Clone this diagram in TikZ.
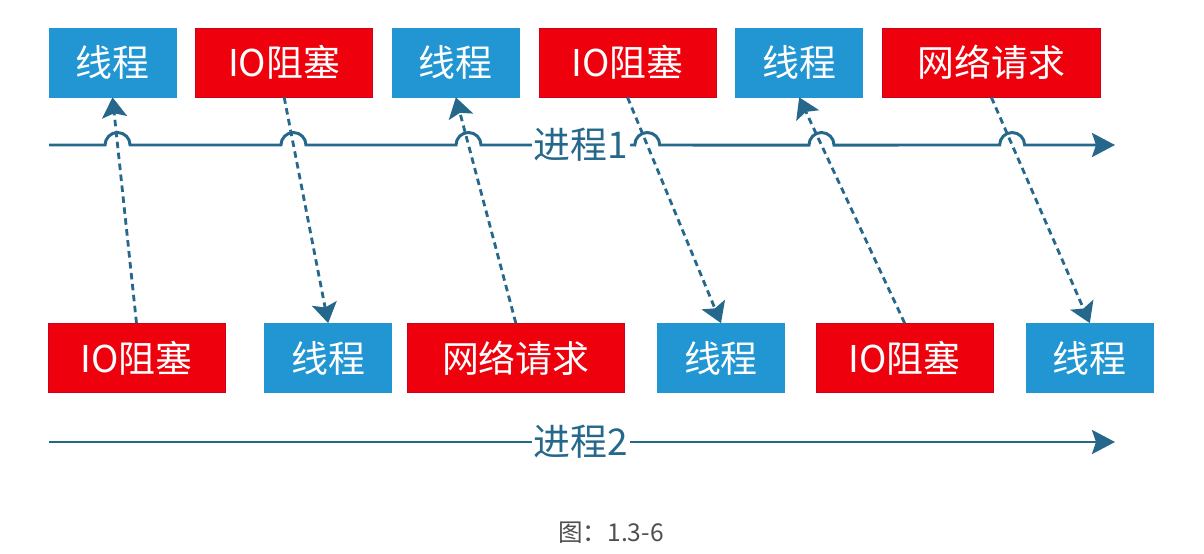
\documentclass[tikz,border=0pt]{standalone}
\usepackage{fontspec}
\setmainfont{Noto Sans CJK SC}
\usetikzlibrary{arrows.meta, positioning}
\definecolor{thrblue}{RGB}{33,150,210}
\definecolor{iored}{RGB}{238,0,12}
\definecolor{ioedge}{RGB}{205,0,30}
\definecolor{procblue}{RGB}{37,104,140}
\definecolor{capgray}{RGB}{80,80,80}

\begin{document}
\begin{tikzpicture}[
        x=0.02cm, y=-0.02cm,
        box/.style={rectangle, minimum height=1.38cm, inner sep=0pt, text=white, font=\fontsize{21}{24}\selectfont},
        thr/.style={box, fill=thrblue, draw=thrblue, minimum width=2.54cm},
        io/.style={box, fill=iored, draw=ioedge, minimum width=3.54cm},
        net/.style={io, minimum width=4.36cm},
        proc/.style={draw=procblue, line width=1.7pt, -{Stealth[length=0.46cm, width=0.48cm, inset=0.08cm]}},
        plabel/.style={text=procblue, inner sep=1pt, font=\fontsize{21}{24}\selectfont},
        dep/.style={draw=procblue, line width=1.6pt, dash pattern=on 0.13cm off 0.09cm, -{Stealth[length=0.4cm, width=0.5cm, inset=0.08cm]}},
        node distance=0.38cm
    ]
        \useasboundingbox (0,0) rectangle (1204,554);

        % Top row
        \node[thr] (th1) at (112.5,62.5) {线程};
        \node[io, right=of th1] (io1) {IO阻塞};
        \node[thr, right=of io1] (th2) {线程};
        \node[io, right=of th2] (io2) {IO阻塞};
        \node[thr, right=of io2] (th3) {线程};
        \node[net, right=of th3] (net1) {网络请求};

        % Bottom row
        \node[io] (io3) at (136.5,358) {IO阻塞};
        \node[thr, right=0.78cm of io3] (th4) {线程};
        \node[net, right=0.29cm of th4] (net2) {网络请求};
        \node[thr, right=0.64cm of net2] (th5) {线程};
        \node[io, right=0.62cm of th5] (io4) {IO阻塞};
        \node[thr, right=0.65cm of io4] (th6) {线程};

        % Process 1
        \coordinate (p1s) at (49,145);
        \coordinate (p1e) at (1115,145);
        \node[plabel] (proc1) at (581,145) {进程1};
        \coordinate (c1) at (intersection of th1.south--io3.north and p1s--p1e);
        \coordinate (c2) at (intersection of io1.south--th4.north and p1s--p1e);
        \coordinate (c3) at (intersection of th2.south--net2.north and p1s--p1e);
        \coordinate (c4) at (intersection of io2.south--th5.north and p1s--p1e);
        \coordinate (c5) at (intersection of th3.south--io4.north and p1s--p1e);
        \coordinate (c6) at (intersection of net1.south--th6.north and p1s--p1e);
        \draw[proc, -] (p1s) -- ([xshift=-0.25cm]c1) arc[start angle=180, end angle=0, radius=0.25cm]
            -- ([xshift=-0.25cm]c2) arc[start angle=180, end angle=0, radius=0.25cm]
            -- ([xshift=-0.25cm]c3) arc[start angle=180, end angle=0, radius=0.25cm]
            -- (proc1.west);
        \draw[proc] (proc1.east) -- ([xshift=-0.25cm]c4) arc[start angle=180, end angle=0, radius=0.25cm]
            -- ([xshift=-0.25cm]c5) arc[start angle=180, end angle=0, radius=0.25cm]
            -- ([xshift=-0.25cm]c6) arc[start angle=180, end angle=0, radius=0.25cm]
            -- (p1e);

        % Process 2
        \coordinate (p2s) at (49,442);
        \coordinate (p2e) at (1115,442);
        \node[plabel] (proc2) at (581,442) {进程2};
        \draw[proc, -] (p2s) -- (proc2.west);
        \draw[proc] (proc2.east) -- (p2e);

        % Arrows
        \draw[dep] (io3.north) -- (th1.south);
        \draw[dep] (io1.south) -- (th4.north);
        \draw[dep] (net2.north) -- (th2.south);
        \draw[dep] (io2.south) -- (th5.north);
        \draw[dep] (io4.north) -- (th3.south);
        \draw[dep] (net1.south) -- (th6.north);

        % Caption
        \node[text=capgray, font=\fontsize{14}{16}\selectfont] (cap) at (611,533) {图：1.3-6};
    \end{tikzpicture}
\end{document}
